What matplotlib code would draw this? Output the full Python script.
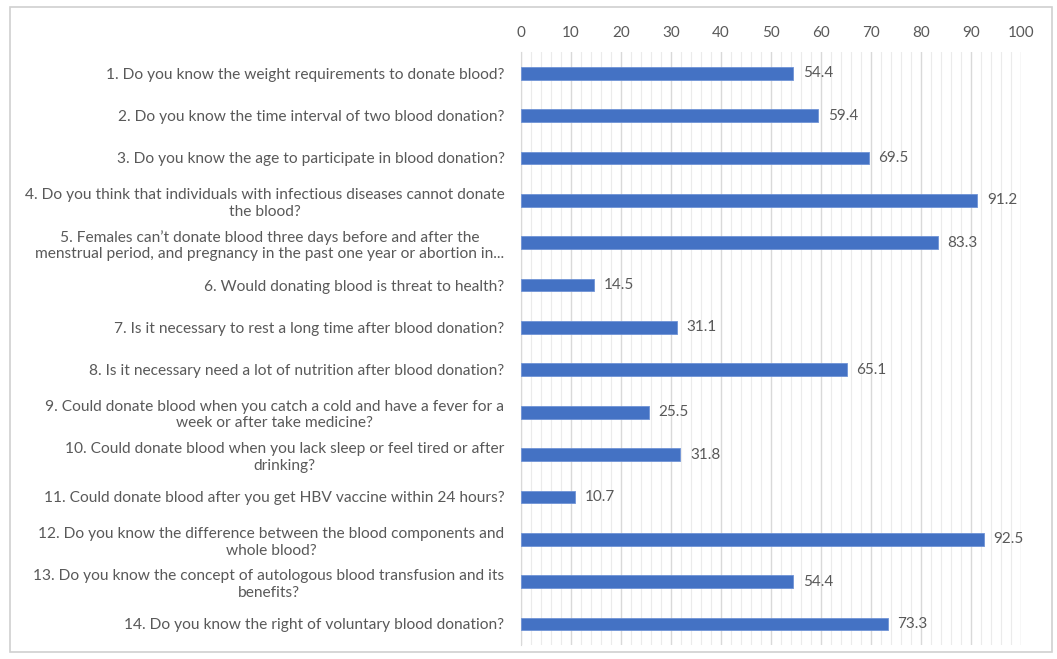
import matplotlib.pyplot as plt
from matplotlib.patches import Rectangle
from matplotlib.ticker import MultipleLocator

questions = [
    "1. Do you know the weight requirements to donate blood?",
    "2. Do you know the time interval of two blood donation?",
    "3. Do you know the age to participate in blood donation?",
    "4. Do you think that individuals with infectious diseases cannot donate\nthe blood?",
    "5. Females can\u2019t donate blood three days before and after the\nmenstrual period, and pregnancy in the past one year or abortion in...",
    "6. Would donating blood is threat to health?",
    "7. Is it necessary to rest a long time after blood donation?",
    "8. Is it necessary need a lot of nutrition after blood donation?",
    "9. Could donate blood when you catch a cold and have a fever for a\nweek or after take medicine?",
    "10. Could donate blood when you lack sleep or feel tired or after\ndrinking?",
    "11. Could donate blood after you get HBV vaccine within 24 hours?",
    "12. Do you know the difference between the blood components and\nwhole blood?",
    "13. Do you know the concept of autologous blood transfusion and its\nbenefits?",
    "14. Do you know the right of voluntary blood donation?",
]
values = [54.4, 59.4, 69.5, 91.2, 83.3, 14.5, 31.1, 65.1, 25.5, 31.8, 10.7, 92.5, 54.4, 73.3]

plt.rcParams['font.family'] = ['Lato', 'DejaVu Sans']
text_color = '#595959'

fig = plt.figure(figsize=(10.57, 6.59), dpi=100)
ax = fig.add_axes([0.493, 0.021, 0.473, 0.900])

pos = list(range(len(values)))
ax.barh(pos, values, height=0.3, color='#4472C4', edgecolor='#6f93d6', linewidth=0.6, zorder=3)
for p, v in zip(pos, values):
    ax.text(v + 2, p, f"{v:.1f}", va='center', ha='left', fontsize=11, color=text_color)

ax.set_xlim(0, 100)
ax.set_ylim(len(values) - 0.5, -0.5)
ax.xaxis.tick_top()
ax.xaxis.set_major_locator(MultipleLocator(10))
ax.xaxis.set_minor_locator(MultipleLocator(2))
ax.grid(axis='x', which='major', color='#d9d9d9', linewidth=1.0, zorder=0)
ax.grid(axis='x', which='minor', color='#ebebeb', linewidth=0.8, zorder=0)
ax.tick_params(axis='x', which='both', length=0, colors=text_color, labelsize=11, pad=9)
ax.tick_params(axis='y', length=0, colors=text_color, labelsize=11.2, pad=12)
ax.set_yticks(pos)
ax.set_yticklabels(questions, multialignment='center', linespacing=1.25)

for s in ['top', 'right', 'bottom']:
    ax.spines[s].set_visible(False)
ax.spines['left'].set_color('#d9d9d9')

fig.patches.append(Rectangle((10 / 1057, 7 / 659), 1042 / 1057, 645 / 659,
                             transform=fig.transFigure, fill=False,
                             edgecolor='#d0d0d0', linewidth=1.2))

fig.savefig('out.png', dpi=100)
